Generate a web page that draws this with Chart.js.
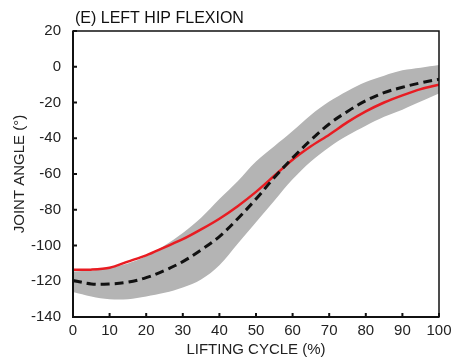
<!DOCTYPE html>
<html>
<head>
<meta charset="utf-8">
<script src="https://cdn.jsdelivr.net/npm/chart.js@4.4.1/dist/chart.umd.min.js"></script>
<style>
  html, body { margin: 0; padding: 0; background: #fff; }
  #wrap { width: 456px; height: 363px; position: relative; }
</style>
</head>
<body>
<div id="wrap"><canvas id="hipChart"></canvas></div>
<script>
// lifting cycle (%) and joint angle (deg)
const cycle = [0, 5, 10, 15, 20, 25, 30, 35, 40, 45, 50, 55, 60, 65, 70, 75, 80, 85, 90, 95, 100]
const subject = [-113.5, -113.5, -112.5, -109, -105.5, -101, -96.5, -91, -85, -78, -70, -61, -52, -44.5, -38, -31, -25, -20, -16, -12.5, -10]
const meanAngle = [-119.5, -121.5, -121.5, -120.5, -118, -114, -109, -102.5, -95, -85, -74, -62, -51, -41, -32, -25, -19, -14.5, -11.5, -9, -7]
const bandUpper = [-114.5, -114, -112.5, -110, -106, -100, -93, -84.5, -74, -64, -53, -44.5, -36, -27, -19.5, -13.5, -8.5, -5, -2, -0.5, 1]
const bandLower = [-126, -128.5, -130, -130, -128.5, -126.5, -123.5, -119, -111, -99, -87, -75, -63, -53, -45, -38.5, -33, -28, -24, -19.5, -15]
const yTicks = [20, 0, -20, -40, -60, -80, -100, -120, -140]
const xTicks = [0, 10, 20, 30, 40, 50, 60, 70, 80, 90, 100]

const chartTitle = '(E) LEFT HIP FLEXION'
const fontFamily = '"Liberation Sans", Arial, sans-serif'

const pts = arr => arr.map((v, i) => ({x: cycle[i], y: v}))

// box frame, inward ticks and the panel title
const framePlugin = {
  id: 'frame',
  afterDatasetsDraw(chart) {
    const {ctx, chartArea: a, scales} = chart
    ctx.save()
    ctx.strokeStyle = '#111'
    ctx.lineWidth = 1.5
    ctx.strokeRect(a.left, a.top, a.right - a.left, a.bottom - a.top)
    ctx.lineWidth = 2
    ctx.beginPath()
    ctx.moveTo(a.left, a.top)
    ctx.lineTo(a.left, a.bottom)
    ctx.lineTo(a.right, a.bottom)
    ctx.stroke()
    ctx.beginPath()
    scales.y.ticks.forEach((t, i) => {
      const py = scales.y.getPixelForTick(i)
      ctx.moveTo(a.left, py)
      ctx.lineTo(a.left + 4, py)
    })
    scales.x.ticks.forEach((t, i) => {
      const px = scales.x.getPixelForTick(i)
      ctx.moveTo(px, a.bottom)
      ctx.lineTo(px, a.bottom - 4)
    })
    ctx.stroke()
    ctx.fillStyle = '#111'
    ctx.font = '16px ' + fontFamily
    ctx.textBaseline = 'alphabetic'
    ctx.fillText(chartTitle, a.left + 2, 23)
    ctx.restore()
  }
}

new Chart(document.getElementById('hipChart'), {
  type: 'line',
  data: {
    datasets: [
      {
        label: 'mean',
        data: pts(meanAngle),
        borderColor: '#111',
        borderWidth: 3,
        borderDash: [9, 5],
        pointRadius: 0,
        fill: false,
        tension: 0.35,
        order: 0
      },
      {
        label: 'subject',
        data: pts(subject),
        borderColor: 'rgb(232, 28, 34)',
        borderWidth: 2.5,
        pointRadius: 0,
        fill: false,
        tension: 0.3,
        order: 1
      },
      {
        label: 'upper',
        data: pts(bandUpper),
        borderWidth: 0,
        borderColor: 'rgba(0,0,0,0)',
        backgroundColor: 'rgb(180, 180, 180)',
        pointRadius: 0,
        fill: '+1',
        tension: 0.35,
        order: 2
      },
      {
        label: 'lower',
        data: pts(bandLower),
        borderWidth: 0,
        borderColor: 'rgba(0,0,0,0)',
        pointRadius: 0,
        fill: false,
        tension: 0.35,
        order: 3
      }
    ]
  },
  options: {
    responsive: true,
    maintainAspectRatio: false,
    animation: false,
    layout: { padding: { top: 31, right: 17, left: 0, bottom: 0 } },
    plugins: {
      legend: { display: false },
      tooltip: { enabled: false }
    },
    scales: {
      x: {
        type: 'linear',
        min: 0,
        max: 100,
        afterBuildTicks: s => { s.ticks = xTicks.map(v => ({value: v})) },
        afterFit: s => { s.height = 46 },
        grid: { display: false },
        border: { display: false },
        ticks: { color: '#222', font: { size: 15, family: fontFamily }, padding: -3, maxRotation: 0, autoSkip: false },
        title: { display: true, text: 'LIFTING CYCLE (%)', color: '#222', font: { size: 15, family: fontFamily }, padding: { top: 0, bottom: 4 } }
      },
      y: {
        min: -140,
        max: 20,
        afterBuildTicks: s => { s.ticks = yTicks.map(v => ({value: v})) },
        afterFit: s => { s.width = 73 },
        grid: { display: false },
        border: { display: false },
        ticks: { color: '#222', font: { size: 15, family: fontFamily }, padding: 4, autoSkip: false },
        title: { display: true, text: 'JOINT ANGLE (°)', color: '#222', font: { size: 15, family: fontFamily }, padding: { top: 11, bottom: 0 } }
      }
    }
  },
  plugins: [framePlugin]
})
</script>
</body>
</html>
